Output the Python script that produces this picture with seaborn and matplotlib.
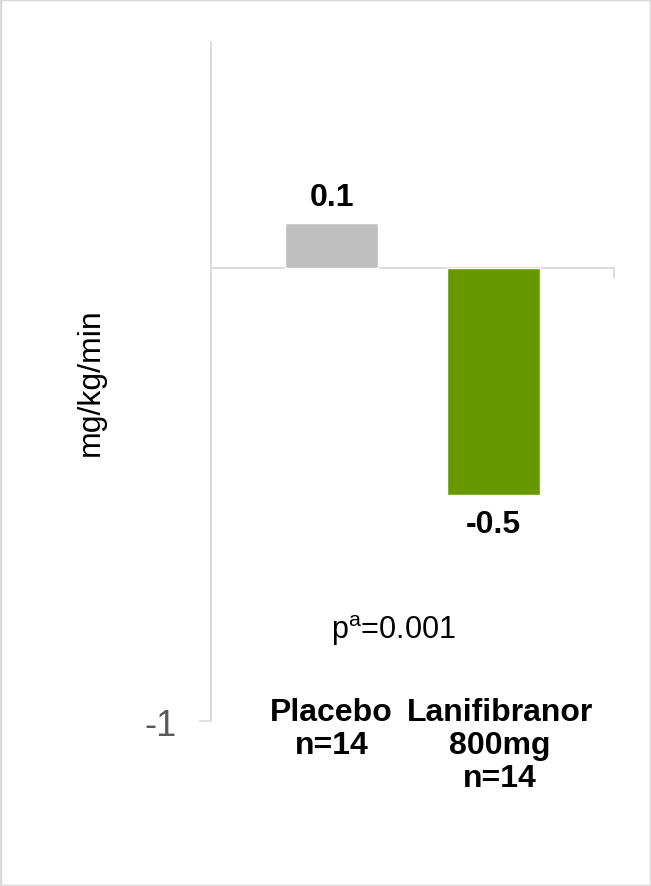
import seaborn as sns
import pandas as pd
import numpy as np
import matplotlib.pyplot as plt
from matplotlib.patches import Rectangle

groups = ["Placebo", "Lanifibranor"]
group_labels = ["Placebo\nn=14", "Lanifibranor\n800mg\nn=14"]
change = [0.1, -0.5]
bar_colors = ["#bfbfbf", "#669900"]
p_text = "p$^{\\mathrm{a}}$=0.001"
y_title = "mg/kg/min"

sns.set_style("white")
plt.rcParams["font.family"] = ["Liberation Sans", "DejaVu Sans"]
plt.rcParams["mathtext.fontset"] = "custom"
plt.rcParams["mathtext.rm"] = "Liberation Sans"
plt.rcParams["text.color"] = "black"

fig = plt.figure(figsize=(6.51, 8.87), dpi=100)
ax = fig.add_axes([211/651, (887-722)/887, (614-211)/651, (722-43)/887])

df = pd.DataFrame({"group": groups, "change": change})
sns.barplot(data=df, x="group", y="change", hue="group", palette=bar_colors,
            width=0.574, legend=False, ax=ax, saturation=1)

ax.set_ylim(-1, 0.5)
ax.set_xlim(-0.744, 1.744)
ax.set_yticks([-1])
ax.set_yticklabels(["-1"])
ax.set_xticks([])
ax.set_xlabel("")
ax.set_ylabel("")
ax.tick_params(axis="y", direction="out", length=8.5, width=1.2, color="#d9d9d9",
               labelsize=26, labelcolor="#595959", pad=16, left=True)
for s in ["top", "right", "bottom"]:
    ax.spines[s].set_visible(False)
ax.spines["left"].set_color("#d9d9d9")
ax.spines["left"].set_linewidth(1.3)

# zero axis line with end tick
ax.axhline(0, color="#d9d9d9", linewidth=1.3, zorder=0.5)
ax.plot([1.744, 1.744], [0, -0.022], color="#d9d9d9", linewidth=1.3, clip_on=False)

for c, pad in zip(ax.containers, [8, 10]):
    ax.bar_label(c, fmt="%g", padding=pad, fontsize=23, fontweight="bold", color="black")

for i, lab in enumerate(group_labels):
    ax.text(i + (0.04 if i else 0), -0.948, lab, ha="center", va="top", fontsize=23,
            fontweight="bold", linespacing=1.12, clip_on=False)

ax.text(0.38, -0.799, p_text, ha="center", va="center", fontsize=22)

fig.text(91/651, 1 - 382/887, y_title, rotation=90, ha="center", va="center", fontsize=23)

fig.patches.append(Rectangle((0, 0), 1, 1, transform=fig.transFigure, fill=False,
                             edgecolor="#d9d9d9", linewidth=2.5))

plt.savefig("out.png", dpi=100)
